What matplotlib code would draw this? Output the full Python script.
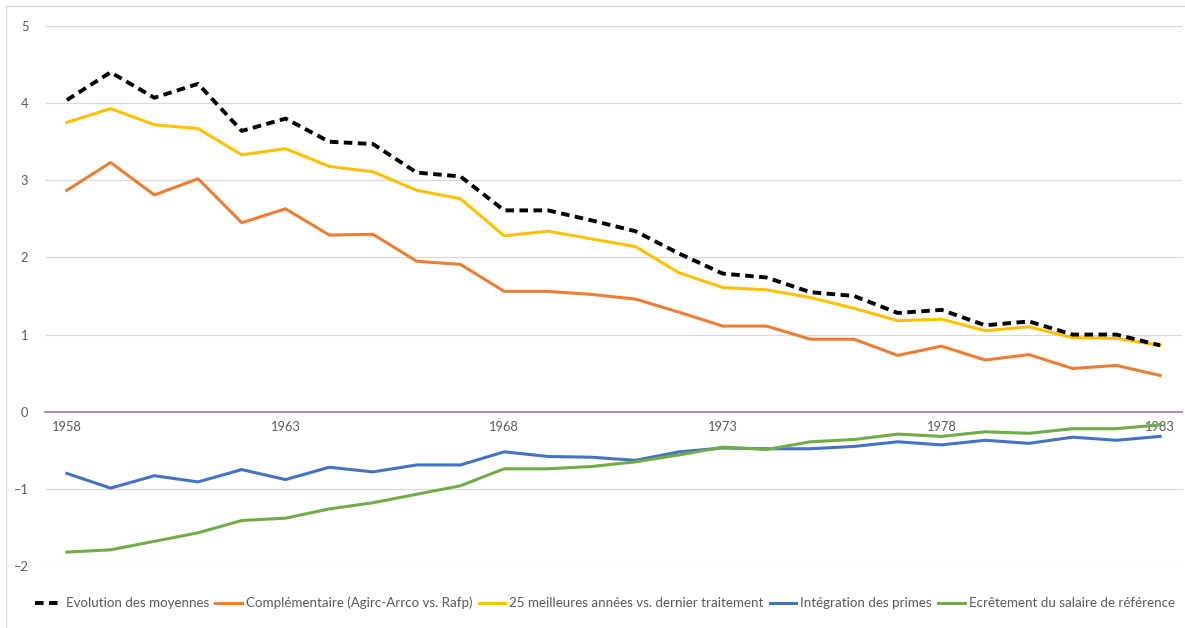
import matplotlib
matplotlib.use("Agg")
import matplotlib.pyplot as plt
from matplotlib import font_manager
from matplotlib.lines import Line2D

years = list(range(1958, 1984))

evolution_moyennes = [4.04, 4.40, 4.07, 4.25, 3.64, 3.80, 3.50, 3.47, 3.10, 3.05,
                      2.61, 2.61, 2.48, 2.34, 2.05, 1.79, 1.74, 1.55, 1.50, 1.28,
                      1.32, 1.12, 1.17, 1.00, 1.00, 0.86]
complementaire = [2.87, 3.23, 2.81, 3.02, 2.45, 2.63, 2.29, 2.30, 1.95, 1.91,
                  1.56, 1.56, 1.52, 1.46, 1.29, 1.11, 1.11, 0.94, 0.94, 0.73,
                  0.85, 0.67, 0.74, 0.56, 0.60, 0.47]
meilleures_annees = [3.75, 3.93, 3.72, 3.67, 3.33, 3.41, 3.18, 3.11, 2.87, 2.76,
                     2.28, 2.34, 2.24, 2.14, 1.80, 1.61, 1.58, 1.48, 1.34, 1.18,
                     1.20, 1.05, 1.10, 0.96, 0.95, 0.86]
integration_primes = [-0.80, -0.99, -0.83, -0.91, -0.75, -0.88, -0.72, -0.78, -0.69, -0.69,
                      -0.52, -0.58, -0.59, -0.63, -0.52, -0.47, -0.48, -0.48, -0.45, -0.39,
                      -0.43, -0.37, -0.41, -0.33, -0.37, -0.32]
ecretement = [-1.82, -1.79, -1.68, -1.57, -1.41, -1.38, -1.26, -1.18, -1.07, -0.96,
              -0.74, -0.74, -0.71, -0.65, -0.56, -0.46, -0.49, -0.39, -0.36, -0.29,
              -0.32, -0.26, -0.28, -0.22, -0.22, -0.17]

series_labels = [
    "Evolution des moyennes",
    "Complémentaire (Agirc-Arrco vs. Rafp)",
    "25 meilleures années vs. dernier traitement",
    "Intégration des primes",
    "Ecrêtement du salaire de référence",
]
x_ticks = [1958, 1963, 1968, 1973, 1978, 1983]
y_ticks = [-2, -1, 0, 1, 2, 3, 4, 5]

installed = {f.name for f in font_manager.fontManager.ttflist}
tick_font = "Lato" if "Lato" in installed else "DejaVu Sans"
legend_font = "Liberation Sans Narrow" if "Liberation Sans Narrow" in installed else tick_font

W, H = 1185, 628
fig = plt.figure(figsize=(W / 100, H / 100), dpi=100)
fig.patch.set_facecolor("white")

# outer chart frame (top and left edges visible)
frame_col = "#D9D9D9"
fig.add_artist(Line2D([6 / W, 1.0], [1 - 6 / H, 1 - 6 / H], color=frame_col, lw=0.9))
fig.add_artist(Line2D([6 / W, 6 / W], [0.0, 1 - 6 / H], color=frame_col, lw=0.9))

ax = fig.add_axes([45 / W, 62 / H, (1182 - 45) / W, (566 - 26) / H])
ax.set_xlim(1957.5, 1983.5)
ax.set_ylim(-2, 5)

ax.set_yticks(y_ticks)
ax.yaxis.grid(True, color="#D9D9D9", lw=0.9)
ax.set_axisbelow(True)

# category axis sits on the zero line
for s in ["top", "right", "left"]:
    ax.spines[s].set_visible(False)
ax.spines["bottom"].set_position(("data", 0))
ax.spines["bottom"].set_color("#A98BD0")
ax.spines["bottom"].set_linewidth(1.4)
ax.spines["bottom"].set_zorder(1)

ax.set_xticks(x_ticks)
ax.tick_params(axis="x", length=0, pad=7, labelsize=9.3, labelcolor="#595959")
ax.tick_params(axis="y", length=0, pad=12, labelsize=9.3, labelcolor="#595959")
for lab in ax.get_xticklabels() + ax.get_yticklabels():
    lab.set_fontfamily(tick_font)

ax.plot(years, complementaire, color="#ED7D31", lw=2.2, label=series_labels[1], zorder=3)
ax.plot(years, meilleures_annees, color="#FFC000", lw=2.2, label=series_labels[2], zorder=3)
ax.plot(years, integration_primes, color="#4472C4", lw=2.2, label=series_labels[3], zorder=3)
ax.plot(years, ecretement, color="#70AD47", lw=2.2, label=series_labels[4], zorder=3)
ax.plot(years, evolution_moyennes, color="black", lw=2.8, ls=(0, (2.2, 1.4)),
        label=series_labels[0], zorder=4)

handles, labels = ax.get_legend_handles_labels()
order = [4, 0, 1, 2, 3]
leg = fig.legend([handles[i] for i in order], [labels[i] for i in order],
                 loc="center", bbox_to_anchor=(605 / W, 1 - 603 / H),
                 ncol=5, frameon=False, handlelength=2.0, handletextpad=0.3,
                 columnspacing=0.45, prop={"family": legend_font, "size": 9.6})
for t in leg.get_texts():
    t.set_color("#595959")

fig.savefig("out.png", dpi=100, facecolor="white")
